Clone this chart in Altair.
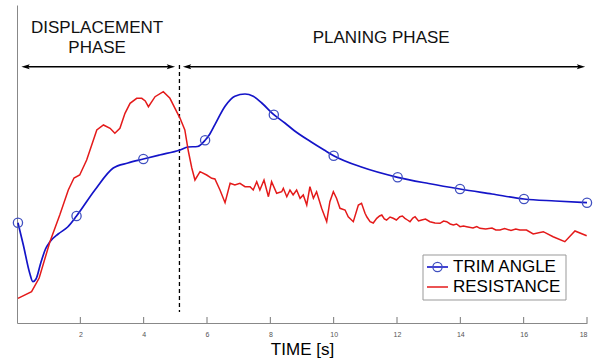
import altair as alt
import pandas as pd

# ---- data ----
trim_t = [0.03, 0.2, 0.4, 0.5, 0.6, 0.75, 0.9, 1.04, 1.3, 1.6, 1.88, 2.46, 3.04, 3.5, 3.99,
          4.5, 5.15, 5.4, 5.7, 5.94, 6.09, 6.25, 6.57, 6.88, 7.2, 7.46, 7.73, 8.11, 8.46, 8.76,
          9.28, 9.7, 10.0, 10.9, 12.02, 13.0, 13.99, 15.0, 16.01, 17.0, 18.0]
trim_v = [100.3, 78, 50, 41.3, 44, 60, 74, 81.3, 89, 96, 107, 133, 155, 160, 164,
          168, 173, 176, 176.5, 182.7, 189, 198.3, 216.7, 226.7, 229, 226.7, 220, 208.3, 200, 192.3,
          181.3, 173, 167.3, 155.7, 145.7, 139.5, 134, 129, 124, 122, 120.3]

marker_t = [0.03, 1.88, 3.99, 5.94, 8.11, 10.0, 12.02, 13.99, 16.01, 18.0]
marker_v = [100.3, 107, 164, 182.7, 208.3, 167.3, 145.7, 134, 124, 120.3]

res_t = [0.03, 0.46, 0.7, 1.04, 1.35, 1.62, 1.8, 1.98, 2.2, 2.52, 2.73, 2.94, 3.09, 3.25, 3.41,
         3.57, 3.78, 3.94, 4.05, 4.15, 4.36, 4.62, 4.83, 4.99, 5.15, 5.3, 5.41, 5.52, 5.62, 5.78,
         5.99, 6.15, 6.25, 6.41, 6.57, 6.73, 6.88, 7.04, 7.2, 7.36, 7.46, 7.57, 7.67, 7.8, 7.94,
         8.04, 8.2, 8.36, 8.41, 8.52, 8.62, 8.72, 8.83, 8.94, 9.04, 9.15, 9.25, 9.36, 9.46, 9.62,
         9.78, 9.88, 9.99, 10.09, 10.2, 10.36, 10.46, 10.62, 10.78, 10.88, 10.99, 11.05, 11.15,
         11.25, 11.36, 11.45, 11.52, 11.6, 11.67, 11.78, 11.88, 11.98, 12.09, 12.17, 12.25, 12.33,
         12.41, 12.5, 12.57, 12.68, 12.78, 12.9, 13.04, 13.2, 13.36, 13.47, 13.57, 13.68, 13.78,
         13.88, 13.99, 14.1, 14.2, 14.4, 14.52, 14.62, 14.8, 15.0, 15.12, 15.25, 15.4, 15.6, 15.75,
         15.88, 16.09, 16.3, 16.62, 16.93, 17.3, 17.62, 17.99]
res_v = [24.7, 31.3, 45, 81.3, 108, 133, 145, 148, 163, 193, 198, 194.7, 189.7, 194.7, 209.7,
         219.7, 224.7, 224.7, 222, 216.3, 226.3, 231.3, 224.7, 214.7, 204.7, 193, 172, 155, 143, 151.3,
         148, 144.7, 144, 133, 120.3, 139.7, 138, 139.7, 136.3, 136.3, 133, 141.3, 133, 143, 126.3,
         141.3, 129.7, 131.3, 134.7, 126.3, 133, 128, 133, 124.7, 128, 118, 136.3, 124.7, 131.3, 114.7,
         101.3, 121.3, 131.3, 124.7, 114.7, 113, 106.3, 101.3, 118, 119.7, 109.7, 106, 101.3,
         100, 104.7, 107, 108, 104, 103, 106, 104.7, 103, 106.3, 107, 104.7, 103,
         101.3, 105, 106.3, 102, 103, 104, 101.3, 100, 99.7, 102, 101.3, 99, 98,
         99, 96.3, 97, 96.3, 95, 96.5, 94.7, 94, 95, 93, 93, 94.5, 92.5, 94,
         93, 93, 89, 91.3, 86.3, 81.3, 92, 87.3]

tick_values = [2, 4, 6, 8, 10, 12, 14, 16, 18]

phase_labels = ["DISPLACEMENT", "PHASE", "PLANING PHASE"]
phase_t = [2.53, 2.53, 11.5]
phase_v = [295, 275, 285]

arrow_start = [0.27, 5.37]
arrow_end = [4.86, 17.81]
arrow_level = 256.3

split_t = 5.13
split_top = 258
split_bottom = 11

FONT = "Liberation Sans"
BLUE = "#1414c8"
MARK_BLUE = "#4050c0"
RED = "#e41a1a"

W, H = 570, 318
xs = alt.Scale(domain=[0, 18], nice=False, zero=False)
ys = alt.Scale(domain=[0, 318], nice=False, zero=False)

x_axis = alt.Axis(values=tick_values, title="TIME [s]", grid=False, tickSize=0,
                  labelFontSize=7, labelColor="#555555", labelFont=FONT, labelPadding=7,
                  titleFontSize=17, titleFont=FONT, titleFontWeight="normal", titleColor="#000000",
                  titlePadding=4, domainColor="#888888", domainWidth=1)
y_axis = alt.Axis(labels=False, ticks=False, grid=False, title=None,
                  domainColor="#888888", domainWidth=1)

X = alt.X("t:Q", scale=xs, axis=x_axis)
Y = alt.Y("v:Q", scale=ys, axis=y_axis)

trim_df = pd.DataFrame({"t": trim_t, "v": trim_v})
marker_df = pd.DataFrame({"t": marker_t, "v": marker_v})
res_df = pd.DataFrame({"t": res_t, "v": res_v})

# inward ticks on bottom axis
ticks = alt.Chart(pd.DataFrame({"t": tick_values})).mark_rule(color="#777777", strokeWidth=1).encode(
    x=X, y=alt.value(H), y2=alt.value(H - 6))

split = alt.Chart(pd.DataFrame({"t": [split_t], "v": [split_top], "v2": [split_bottom]})).mark_rule(
    color="#000000", strokeDash=[4, 3], strokeWidth=1.3).encode(x=X, y=Y, y2="v2:Q")

trim_line = alt.Chart(trim_df).mark_line(color=BLUE, strokeWidth=1.7, interpolate="monotone").encode(x=X, y=Y)
trim_marks = alt.Chart(marker_df).mark_point(shape="circle", size=85, filled=False, color=MARK_BLUE,
                                             strokeWidth=1.3, opacity=1).encode(x=X, y=Y)
res_line = alt.Chart(res_df).mark_line(color=RED, strokeWidth=1.5).encode(x=X, y=Y)

arrow_df = pd.DataFrame({"t": arrow_start, "t2": arrow_end, "v": [arrow_level, arrow_level]})
arrow_lines = alt.Chart(arrow_df).mark_rule(color="#000000", strokeWidth=1.6).encode(x=X, x2="t2:Q", y=Y)
LEFT_HEAD = "M -1 0 L 1 -0.6 L 0.6 0 L 1 0.6 Z"
RIGHT_HEAD = "M 1 0 L -1 -0.6 L -0.6 0 L -1 0.6 Z"
heads_left = alt.Chart(pd.DataFrame({"t": arrow_start, "v": [arrow_level, arrow_level]})).mark_point(
    shape=LEFT_HEAD, size=70, filled=True, color="#000000", opacity=1).encode(x=X, y=Y)
heads_right = alt.Chart(pd.DataFrame({"t": arrow_end, "v": [arrow_level, arrow_level]})).mark_point(
    shape=RIGHT_HEAD, size=70, filled=True, color="#000000", opacity=1).encode(x=X, y=Y)

phase_text = alt.Chart(pd.DataFrame({"t": phase_t, "v": phase_v, "label": phase_labels})).mark_text(
    font=FONT, fontSize=17, color="#111111", align="center", baseline="middle").encode(
    x=X, y=Y, text="label:N")

one = pd.DataFrame({"a": [0]})
leg_box = alt.Chart(one).mark_rect(fill="white", stroke="#999999", strokeWidth=1).encode(
    x=alt.value(406), x2=alt.value(549), y=alt.value(250), y2=alt.value(295))
leg_l1 = alt.Chart(one).mark_rule(color=BLUE, strokeWidth=1.6).encode(
    x=alt.value(410), x2=alt.value(431), y=alt.value(262))
leg_m1 = alt.Chart(one).mark_point(shape="circle", size=85, filled=False, color=MARK_BLUE,
                                   strokeWidth=1.3, opacity=1).encode(x=alt.value(420.5), y=alt.value(262))
leg_l2 = alt.Chart(one).mark_rule(color=RED, strokeWidth=1.5).encode(
    x=alt.value(410), x2=alt.value(431), y=alt.value(282))
leg_t1 = alt.Chart(one).mark_text(font=FONT, fontSize=17, align="left", baseline="middle", color="#000000",
                                  text="TRIM ANGLE").encode(x=alt.value(436), y=alt.value(262))
leg_t2 = alt.Chart(one).mark_text(font=FONT, fontSize=17, align="left", baseline="middle", color="#000000",
                                  text="RESISTANCE").encode(x=alt.value(436), y=alt.value(282))

chart = alt.layer(
    ticks, split, trim_line, trim_marks, res_line, arrow_lines, heads_left, heads_right, phase_text,
    leg_box, leg_l1, leg_m1, leg_l2, leg_t1, leg_t2
).properties(
    width=W, height=H,
    autosize=alt.AutoSizeParams(type="none"),
    padding={"left": 17, "top": 5, "right": 14, "bottom": 39},
    background="white",
).configure_view(stroke=None)

chart.save("out.html", embed_options={"renderer": "svg", "actions": False})
